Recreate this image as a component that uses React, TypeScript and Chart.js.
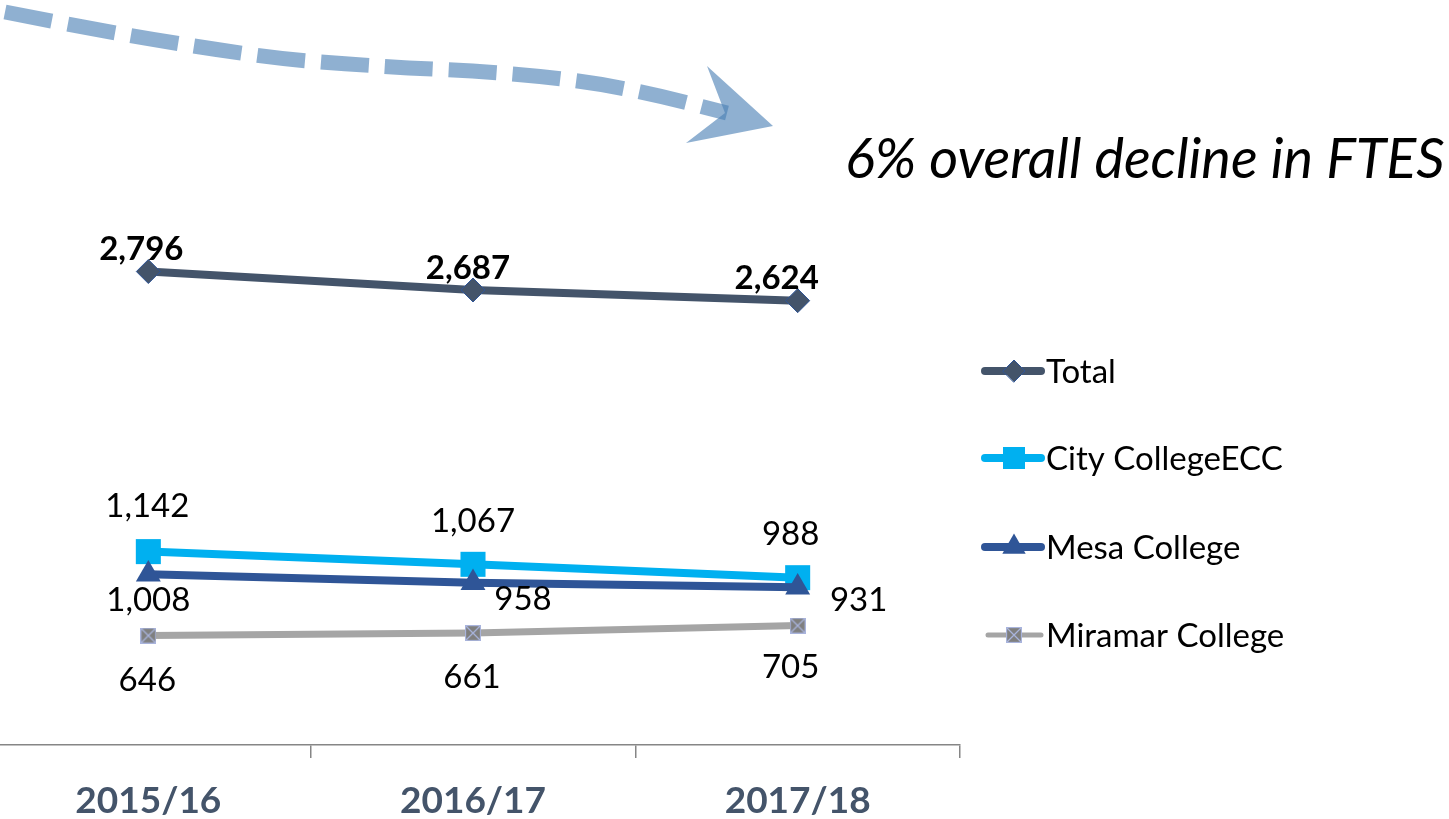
import React, { useEffect, useRef } from "react";
import { Chart, registerables } from "chart.js";

Chart.register(...registerables);

// ---------- data ----------
const CATEGORIES = ["2015/16", "2016/17", "2017/18"];
const SERIES_NAMES = ["Total", "City CollegeECC", "Mesa College", "Miramar College"];
const TOTAL = [2796, 2687, 2624];
const CITY = [1142, 1067, 988];
const MESA = [1008, 958, 931];
const MIRAMAR = [646, 661, 705];
const Y_MIN = 0;
const Y_MAX = 3000;
const ANNOTATION = "6% overall decline in FTES";

// ---------- styles ----------
const OX = 14; // canvas is shifted left by this many px
const COLORS = ["#44546A", "#00B0F0", "#2F5597", "#A5A5A5"];
const FONT = "Lato, 'Liberation Sans', sans-serif";
const LABEL_OFFSETS = [
  [[-7, -22], [-5, -22], [-21, -22]],
  [[-1, -45], [0, -43], [-7, -43]],
  [[0, 26], [50, 17], [61, 13]],
  [[-1, 45], [-1, 44], [-7, 42]],
];
const LEGEND_Y = [371, 458, 547, 635];
const ARROW_PTS = [
  [5, 12], [30, 17], [93, 29], [156, 40], [219, 50], [283, 59], [347, 64],
  [410, 68], [474, 71], [538, 76], [602, 84], [665, 97], [727, 113],
];
const ARROW_HEAD = [[773, 126], [707, 66], [725, 113], [686, 143]];
const ARROW_COLOR = "rgba(75,128,180,0.62)";

function makeMiramarMarker(): HTMLCanvasElement {
  const c = document.createElement("canvas");
  c.width = 16;
  c.height = 16;
  const g = c.getContext("2d")!;
  g.fillStyle = "#7F7F7F";
  g.fillRect(0.5, 0.5, 15, 15);
  g.strokeStyle = "#A9B4DC";
  g.lineWidth = 1.3;
  g.strokeRect(0.5, 0.5, 15, 15);
  g.beginPath();
  g.moveTo(1, 1);
  g.lineTo(15, 15);
  g.moveTo(15, 1);
  g.lineTo(1, 15);
  g.stroke();
  return c;
}

function drawMarker(ctx: CanvasRenderingContext2D, i: number, x: number, y: number, img: HTMLCanvasElement) {
  ctx.save();
  ctx.fillStyle = COLORS[i];
  if (i === 0) {
    const r = 11;
    ctx.beginPath();
    ctx.moveTo(x - r, y);
    ctx.lineTo(x, y - r);
    ctx.lineTo(x + r, y);
    ctx.lineTo(x, y + r);
    ctx.closePath();
    ctx.fill();
    ctx.strokeStyle = "#2F5597";
    ctx.lineWidth = 1;
    ctx.stroke();
  } else if (i === 1) {
    ctx.fillRect(x - 11, y - 11, 22, 22);
  } else if (i === 2) {
    const r = 13.5;
    ctx.beginPath();
    ctx.moveTo(x, y - r);
    ctx.lineTo(x + r * Math.sin((2 * Math.PI) / 3), y - r * Math.cos((2 * Math.PI) / 3));
    ctx.lineTo(x + r * Math.sin((4 * Math.PI) / 3), y - r * Math.cos((4 * Math.PI) / 3));
    ctx.closePath();
    ctx.fill();
  } else {
    ctx.drawImage(img, x - img.width / 2, y - img.height / 2);
  }
  ctx.restore();
}

export default function App() {
  const ref = useRef<HTMLCanvasElement | null>(null);

  useEffect(() => {
    document.body.style.margin = "0";
    document.body.style.overflow = "hidden";
    const canvas = ref.current!;
    const miramarImg = makeMiramarMarker();

    const labelsPlugin = {
      id: "valueLabels",
      afterDatasetsDraw(chart: any) {
        const ctx: CanvasRenderingContext2D = chart.ctx;
        ctx.save();
        ctx.textAlign = "center";
        ctx.textBaseline = "middle";
        ctx.fillStyle = "#000";
        chart.data.datasets.forEach((ds: any, di: number) => {
          const meta = chart.getDatasetMeta(di);
          ctx.font = (di === 0 ? "bold " : "") + "33px " + FONT;
          meta.data.forEach((pt: any, pi: number) => {
            const v = ds.data[pi] as number;
            const [dx, dy] = LABEL_OFFSETS[di][pi];
            ctx.fillText(v.toLocaleString("en-US"), pt.x + dx, pt.y + dy);
          });
        });
        ctx.restore();
      },
    };

    const decorPlugin = {
      id: "decor",
      afterDraw(chart: any) {
        const ctx: CanvasRenderingContext2D = chart.ctx;
        ctx.save();
        ctx.translate(OX, 0);

        // dashed curved arrow
        ctx.strokeStyle = ARROW_COLOR;
        ctx.lineWidth = 15;
        ctx.lineCap = "butt";
        ctx.setLineDash([48, 16]);
        ctx.beginPath();
        ctx.moveTo(ARROW_PTS[0][0], ARROW_PTS[0][1]);
        for (let i = 1; i < ARROW_PTS.length - 1; i++) {
          const [x, y] = ARROW_PTS[i];
          const [nx, ny] = ARROW_PTS[i + 1];
          ctx.quadraticCurveTo(x, y, (x + nx) / 2, (y + ny) / 2);
        }
        const last = ARROW_PTS[ARROW_PTS.length - 1];
        ctx.lineTo(last[0], last[1]);
        ctx.stroke();
        ctx.setLineDash([]);
        ctx.fillStyle = ARROW_COLOR;
        ctx.beginPath();
        ARROW_HEAD.forEach(([x, y], i) => (i === 0 ? ctx.moveTo(x, y) : ctx.lineTo(x, y)));
        ctx.closePath();
        ctx.fill();

        // annotation text
        ctx.fillStyle = "#000";
        ctx.textAlign = "left";
        ctx.textBaseline = "alphabetic";
        ctx.font = "italic 100px " + FONT;
        const w = ctx.measureText(ANNOTATION).width;
        const size = (100 * 600) / w;
        ctx.font = `italic ${size.toFixed(1)}px ${FONT}`;
        ctx.fillText(ANNOTATION, 845, 178);

        // legend
        SERIES_NAMES.forEach((name, i) => {
          const y = LEGEND_Y[i];
          ctx.strokeStyle = COLORS[i];
          ctx.lineWidth = i === 3 ? 5 : 8;
          ctx.lineCap = "round";
          ctx.beginPath();
          ctx.moveTo(i === 3 ? 988 : 985, y);
          ctx.lineTo(1041, y);
          ctx.stroke();
          drawMarker(ctx, i, 1014, y, miramarImg);
          ctx.fillStyle = "#000";
          ctx.font = "33px " + FONT;
          ctx.textBaseline = "middle";
          ctx.fillText(name, 1046, y + 1);
        });
        ctx.restore();
      },
    };

    const series = [TOTAL, CITY, MESA, MIRAMAR];
    const pointStyles: any[] = ["rectRot", "rect", "triangle", miramarImg];
    const radii = [12, 17.7, 14.4, 8];
    const orders = [0, 2, 1, 3];

    const chart = new Chart(canvas, {
      type: "line",
      data: {
        labels: CATEGORIES,
        datasets: series.map((data, i) => ({
          label: SERIES_NAMES[i],
          data,
          borderColor: COLORS[i],
          backgroundColor: COLORS[i],
          borderWidth: i === 3 ? 7 : 8,
          pointStyle: pointStyles[i],
          pointRadius: radii[i],
          pointBackgroundColor: COLORS[i],
          pointBorderColor: i === 0 ? "#2F5597" : COLORS[i],
          pointBorderWidth: i === 0 ? 1 : 0,
          tension: 0,
          order: orders[i],
          clip: false as any,
        })),
      },
      options: {
        responsive: false,
        animation: false,
        devicePixelRatio: 1,
        layout: { autoPadding: false, padding: { top: 237, right: 489, left: 0, bottom: 0 } },
        plugins: {
          legend: { display: false },
          tooltip: { enabled: false },
        },
        scales: {
          x: {
            type: "category",
            offset: true,
            grid: {
              offset: true,
              drawOnChartArea: false,
              drawTicks: true,
              tickLength: 13,
              color: "#868686",
              lineWidth: 1.5,
            },
            border: { display: true, color: "#868686", width: 1.5 },
            ticks: {
              color: "#44546A",
              font: { family: FONT, size: 37, weight: "bold" },
              padding: 21,
              maxRotation: 0,
            },
            afterFit: (s: any) => {
              s.height = 74;
              s.paddingLeft = 0;
              s.paddingRight = 0;
            },
          },
          y: { display: false, min: Y_MIN, max: Y_MAX },
        },
      },
      plugins: [labelsPlugin, decorPlugin],
    });
    return () => chart.destroy();
  }, []);

  return (
    <div style={{ position: "relative", width: 1449, height: 819, overflow: "hidden", background: "#fff" }}>
      <canvas
        ref={ref}
        width={1449 + OX}
        height={819}
        style={{ position: "absolute", left: -OX, top: 0, width: 1449 + OX, height: 819 }}
      />
    </div>
  );
}
